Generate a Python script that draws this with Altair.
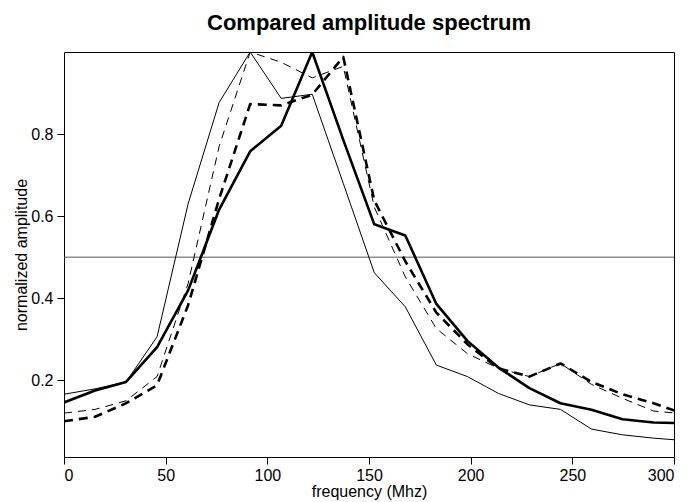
import altair as alt
import pandas as pd

# frequency bins (MHz)
freq = [0.0, 15.26, 30.52, 45.78, 61.04, 76.3, 91.56, 106.82, 122.08, 137.34,
        152.6, 167.86, 183.12, 198.38, 213.64, 228.9, 244.16, 259.42, 274.68, 289.94, 305.2]

thin_solid = [0.166, 0.179, 0.196, 0.306, 0.630, 0.877, 1.000, 0.887, 0.897, 0.680,
              0.462, 0.379, 0.237, 0.209, 0.168, 0.140, 0.129, 0.081, 0.067, 0.059, 0.053]
thick_solid = [0.146, 0.175, 0.196, 0.281, 0.419, 0.616, 0.758, 0.820, 1.000, 0.786,
               0.580, 0.553, 0.386, 0.296, 0.231, 0.181, 0.144, 0.128, 0.105, 0.097, 0.095]
thin_dashed = [0.120, 0.129, 0.150, 0.209, 0.436, 0.770, 1.000, 0.975, 0.937, 0.965,
               0.622, 0.452, 0.326, 0.265, 0.229, 0.209, 0.241, 0.190, 0.156, 0.125, 0.118]
thick_dashed = [0.100, 0.111, 0.144, 0.188, 0.383, 0.642, 0.873, 0.870, 0.896, 0.988,
                0.638, 0.490, 0.365, 0.288, 0.229, 0.209, 0.241, 0.196, 0.166, 0.144, 0.118]

ref_level = [0.5]

FONT = "Liberation Sans"

x_enc = alt.X("f:Q", scale=alt.Scale(domain=[0, 300], nice=False, zero=False),
              axis=alt.Axis(values=[0, 50, 100, 150, 200, 250, 300], title="frequency (Mhz)",
                            format="d", titlePadding=0, labelPadding=3))
y_enc = alt.Y("v:Q", scale=alt.Scale(domain=[0.013, 1.0], nice=False, zero=False),
              axis=alt.Axis(values=[0.2, 0.4, 0.6, 0.8], title="normalized amplitude",
                            format=".1f", titlePadding=1, labelPadding=4))


def series(vals, width, dash=None):
    df = pd.DataFrame({"f": freq, "v": vals})
    kw = dict(color="black", strokeWidth=width, clip=True, strokeJoin="round")
    if dash:
        kw["strokeDash"] = dash
    return alt.Chart(df).mark_line(**kw).encode(x=x_enc, y=y_enc)


hline = alt.Chart(pd.DataFrame({"v": ref_level})).mark_rule(color="#555555", strokeWidth=1).encode(y=y_enc)

chart = alt.layer(
    hline,
    series(thin_solid, 1),
    series(thin_dashed, 1, [8, 6]),
    series(thick_solid, 2.6),
    series(thick_dashed, 2.6, [9, 6]),
).properties(
    width=610,
    height=405,
    title=alt.TitleParams("Compared amplitude spectrum", fontSize=22, font=FONT,
                          fontWeight="bold", anchor="middle", offset=17, color="black"),
    autosize=alt.AutoSizeParams(type="none"),
    padding={"left": 56, "top": 44, "right": 6, "bottom": 45},
).configure_view(
    stroke="black", strokeWidth=1
).configure_axis(
    domain=False, ticks=True, tickSize=7, tickColor="black", tickWidth=1,
    labelFont=FONT, labelFontSize=16, labelColor="black",
    titleFont=FONT, titleFontSize=16, titleFontWeight="normal", titleColor="black",
    grid=False,
).configure_axisY(labelAngle=0)

chart.save("out.html", embed_options={"renderer": "svg", "actions": False})
